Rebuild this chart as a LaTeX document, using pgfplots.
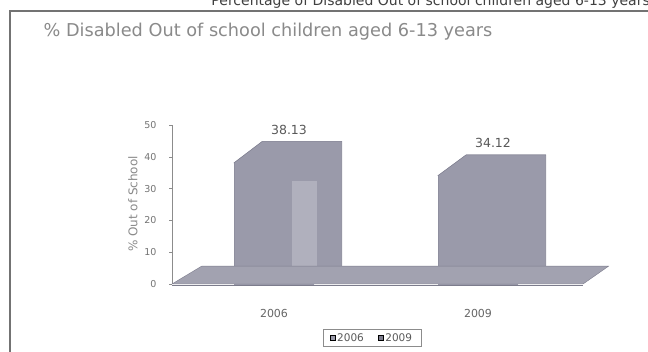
\documentclass[border=0pt]{standalone}
\usepackage{pgfplots}
\pgfplotsset{compat=1.18}
\usepackage{fontspec}
\setmainfont{DejaVu Sans}
\definecolor{txtgray}{HTML}{8A8A8A}
\definecolor{bargray}{HTML}{9A9AAA}
\definecolor{bardark}{HTML}{7C7C8C}
\definecolor{floorgray}{HTML}{A2A2B0}
\begin{document}
\begin{tikzpicture}[x=1pt,y=1pt]
\path[use as bounding box] (0,0) rectangle (648,352);
\fill[white] (0,0) rectangle (648,352);
% cropped caption at the very top
\node[anchor=base east, font=\fontsize{14}{16}\selectfont, text=black!75, inner sep=0] at (650,346) {Percentage of Disabled Out of school children aged 6-13 years};
% outer frame
\draw[black!55, line width=1.2pt] (10,-10) -- (10,341) -- (660,341);
% title
\node[font=\fontsize{17.7}{20}\selectfont, text=txtgray] at (268,320) {\% Disabled Out of school children aged 6-13 years};
% y label
\node[rotate=90, font=\fontsize{12}{14}\selectfont, text=txtgray] at (133,148) {\% Out of School};
\begin{axis}[
  at={(172pt,68pt)}, anchor=south west,
  scale only axis, width=408pt, height=159pt,
  xmin=-0.5, xmax=1.5, ymin=0, ymax=50,
  clip=false,
  axis x line*=bottom, axis y line*=left,
  x axis line style={draw=none},
  y axis line style={draw=black!45, -},
  xtick={0,1}, xticklabels={2006,2009},
  extra x ticks={-0.5,0.5,1.5}, extra x tick labels={},
  extra x tick style={major tick length=4pt, tick style={draw=black!40}, tick align=outside},
  xtick style={draw=none},
  ytick={0,10,20,30,40,50},
  ytick style={draw=black!45},
  tick align=outside, major tick length=3pt,
  /pgf/number format/assume math mode=true,
  xticklabel style={font=\fontsize{11}{12}\selectfont, text=black!60, yshift=-19pt},
  yticklabel style={font=\fontsize{9.5}{10}\selectfont, text=black!55, xshift=-9pt},
  legend style={at={(0.49,-0.34)}, anchor=center, draw=black!45,
    font=\fontsize{10.5}{11}\selectfont, text=black!65, legend columns=2,
    inner xsep=7pt, inner ysep=2pt, row sep=0pt,
    /tikz/every even column/.append style={column sep=12pt}},
  legend image code/.code={\fill[#1] (0pt,-2.5pt) rectangle (5pt,2.5pt);},
]
% depth faces (top and side) of the 3D columns
\addplot[fill=bargray, draw=bargray, line width=0.6pt, forget plot] coordinates {(-0.195,38.13) (-0.058,44.8) (0.332,44.8) (0.332,3) (0.195,0) (0.195,38.13)} -- cycle;
\addplot[fill=bargray, draw=bargray, line width=0.6pt, forget plot] coordinates {(0.805,34.12) (0.942,40.6) (1.332,40.6) (1.332,3) (1.195,0) (1.195,34.12)} -- cycle;
% front faces
\addplot[ybar, bar width=0.39, fill=bargray, draw=bargray, line width=0.6pt, forget plot,
  nodes near coords,
  every node near coord/.append style={font=\fontsize{12.5}{14}\selectfont, text=black!65, anchor=center, xshift=15pt, yshift=33pt}]
  coordinates {(0,38.13) (1,34.12)};
% lighter inner strip in the first column
\addplot[fill=white!22!bargray, draw=none, forget plot] coordinates {(0.09,0) (0.09,32.5) (0.21,32.5) (0.21,0)} -- cycle;
% column outlines
\addplot[draw=bardark, forget plot] coordinates {(-0.195,0) (-0.195,38.13) (-0.058,44.8) (0.332,44.8) (0.332,3)};
\addplot[draw=bardark, forget plot] coordinates {(0.805,0) (0.805,34.12) (0.942,40.6) (1.332,40.6) (1.332,3)};
% floor
\addplot[fill=floorgray, draw=bardark, forget plot] coordinates {(-0.5,0) (-0.355,5.6) (1.64,5.6) (1.515,0)} -- cycle;
\addplot[draw=bardark, line width=0.8pt, forget plot] coordinates {(-0.5,-0.4) (1.515,-0.4)};
\addlegendimage{fill=bargray}
\addlegendentry{2006}
\addlegendimage{fill=bardark}
\addlegendentry{2009}
\end{axis}
\end{tikzpicture}
\end{document}
